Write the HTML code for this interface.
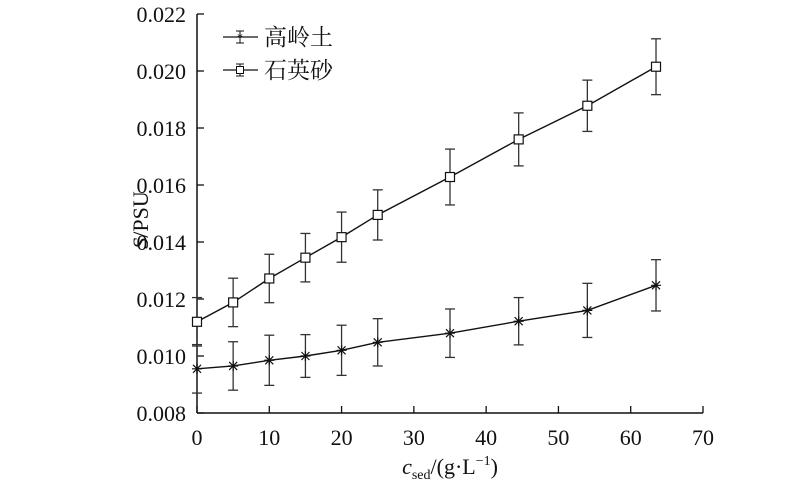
<!DOCTYPE html>
<html><head><meta charset="utf-8"><style>
body{margin:0;background:#fff}
svg text{font-family:"Liberation Serif","Noto Serif CJK SC",serif;fill:#111}
</style></head><body>
<svg width="800" height="492" viewBox="0 0 800 492" xmlns="http://www.w3.org/2000/svg">
<g id="axes"></g><g id="plot"></g>
<g>
 <g>
  <line x1="223" y1="37" x2="258" y2="37" stroke="#111" stroke-width="1.3"/>
  <line x1="240" y1="31" x2="240" y2="43" stroke="#111"/><line x1="236" y1="31" x2="244" y2="31" stroke="#111"/><line x1="236" y1="43" x2="244" y2="43" stroke="#111"/>
  <text x="240" y="41" font-size="12" text-anchor="middle">*</text>
  <text x="264" y="45" font-size="23">高岭土</text>
 </g>
 <g>
  <line x1="223" y1="70" x2="258" y2="70" stroke="#111" stroke-width="1.3"/>
  <line x1="240" y1="64" x2="240" y2="76" stroke="#111"/><line x1="236" y1="64" x2="244" y2="64" stroke="#111"/><line x1="236" y1="76" x2="244" y2="76" stroke="#111"/>
  <rect x="236.5" y="66.5" width="7" height="7" fill="#fff" stroke="#111"/>
  <text x="264" y="78" font-size="23">石英砂</text>
 </g>
</g>
<text x="0" y="0" font-size="22" text-anchor="middle" transform="translate(148,220) rotate(-90)"><tspan font-style="italic">S</tspan>/PSU</text>
<text x="450" y="474" font-size="22" text-anchor="middle"><tspan font-style="italic">c</tspan><tspan font-size="14" dy="5">sed</tspan><tspan dy="-5">/(g·L</tspan><tspan font-size="14" dy="-9">−1</tspan><tspan dy="9">)</tspan></text>
</svg>
<script>
const xTicks=[0,10,20,30,40,50,60,70];
const yTicks=[0.008,0.010,0.012,0.014,0.016,0.018,0.020,0.022];
const xVals=[0,5,10,15,20,25,35,44.5,54,63.5];
const kaolin=[0.00955,0.00965,0.00985,0.0100,0.0102,0.01048,0.0108,0.01122,0.0116,0.01248];
const kaolinErr=[0.00085,0.00085,0.00088,0.00075,0.00088,0.00083,0.00085,0.00083,0.00095,0.0009];
const quartz=[0.0112,0.01188,0.01272,0.01345,0.01417,0.01495,0.01628,0.0176,0.01878,0.02015];
const quartzErr=[0.00085,0.00085,0.00085,0.00085,0.00088,0.00088,0.00098,0.00093,0.0009,0.00098];
const NS="http://www.w3.org/2000/svg";
const X=v=>197+v*(703-197)/70;
const Y=v=>413-(v-0.008)*(413-14)/0.014;
function mk(p,t,a){const e=document.createElementNS(NS,t);for(const k in a)e.setAttribute(k,a[k]);p.appendChild(e);return e;}
const ax=document.getElementById('axes'),pl=document.getElementById('plot');
let l=mk(ax,'line',{x1:197,y1:413,x2:703,y2:413,stroke:'#111','stroke-width':1.5});


l=mk(ax,'line',{x1:197,y1:413,x2:197,y2:14,stroke:'#111','stroke-width':1.5});


xTicks.forEach(v=>{mk(ax,'line',{x1:X(v),y1:413,x2:X(v),y2:406,stroke:'#111','stroke-width':1.3});
 const t=mk(ax,'text',{x:X(v),y:445,'font-size':22,'text-anchor':'middle'});t.textContent=v;
 
 });
yTicks.forEach(v=>{mk(ax,'line',{x1:197,y1:Y(v),x2:204,y2:Y(v),stroke:'#111','stroke-width':1.3});
 const t=mk(ax,'text',{x:186,y:Y(v)+8,'font-size':22,'text-anchor':'end'});t.textContent=v.toFixed(3);
 
 });
function series(vals,errs,name,marker){
 const g=mk(pl,'g',{});
 
 
 mk(g,'polyline',{points:xVals.map((x,i)=>X(x)+','+Y(vals[i])).join(' '),fill:'none',stroke:'#111','stroke-width':1.4});
 xVals.forEach((x,i)=>{const cx=X(x),y1=Y(vals[i]+errs[i]),y2=Y(vals[i]-errs[i]);
  const e=mk(g,'g',{stroke:'#333','stroke-width':1.3});
  
  
  mk(e,'line',{x1:cx,y1:y1,x2:cx,y2:y2});mk(e,'line',{x1:cx-5,y1:y1,x2:cx+5,y2:y1});mk(e,'line',{x1:cx-5,y1:y2,x2:cx+5,y2:y2});
  const cy=Y(vals[i]);let m;
  if(marker==='sq'){m=mk(g,'rect',{x:cx-4.5,y:cy-4.5,width:9,height:9,fill:'#fff',stroke:'#111','stroke-width':1.2});}
  else{m=mk(g,'path',{d:`M${cx-5},${cy}H${cx+5}M${cx},${cy-5}V${cy+5}M${cx-4},${cy-4}L${cx+4},${cy+4}M${cx-4},${cy+4}L${cx+4},${cy-4}`,stroke:'#111','stroke-width':1.2});}
  
  
 });
}
series(kaolin,kaolinErr,'kaolin','star');
series(quartz,quartzErr,'quartz','sq');
</script>
</body></html>
